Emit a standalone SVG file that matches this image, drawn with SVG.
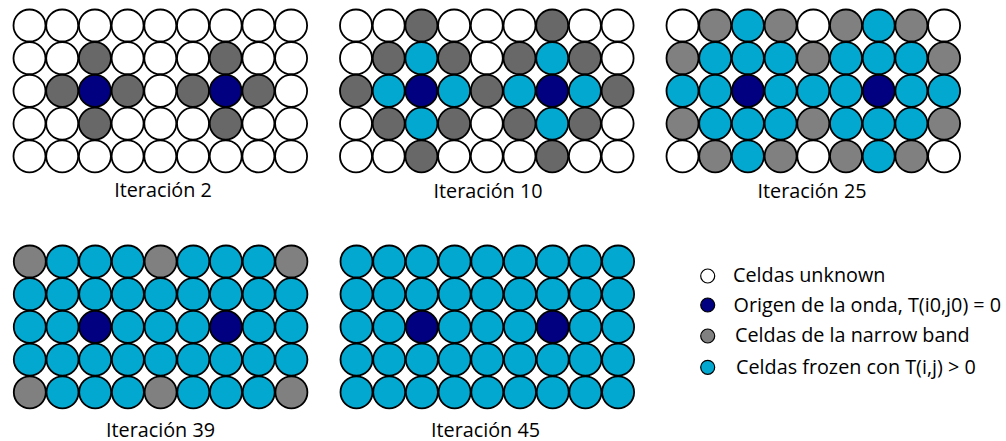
<svg xmlns="http://www.w3.org/2000/svg" width="1006" height="441" viewBox="0 0 1006 441">
<style>
circle{stroke:#000;stroke-width:1.8}
.w{fill:#fff}.b{fill:#000080}.g{fill:#686868}.h{fill:#808080}.c{fill:#02A8D0}
.lg circle{stroke-width:1.2}
text{font-family:"Open Sans","Liberation Sans",sans-serif;font-size:19.8px;fill:#000}
.lbl{text-anchor:middle}
</style>
<g id="iter2" transform="translate(29.5,25.5)">
<g transform="translate(0,0)"><circle cx="0" r="16" class="w"/><circle cx="32.7" r="16" class="w"/><circle cx="65.4" r="16" class="w"/><circle cx="98.1" r="16" class="w"/><circle cx="130.8" r="16" class="w"/><circle cx="163.5" r="16" class="w"/><circle cx="196.2" r="16" class="w"/><circle cx="228.9" r="16" class="w"/><circle cx="261.6" r="16" class="w"/></g>
<g transform="translate(0,32.7)"><circle cx="0" r="16" class="w"/><circle cx="32.7" r="16" class="w"/><circle cx="65.4" r="16" class="g"/><circle cx="98.1" r="16" class="w"/><circle cx="130.8" r="16" class="w"/><circle cx="163.5" r="16" class="w"/><circle cx="196.2" r="16" class="g"/><circle cx="228.9" r="16" class="w"/><circle cx="261.6" r="16" class="w"/></g>
<g transform="translate(0,65.4)"><circle cx="0" r="16" class="w"/><circle cx="32.7" r="16" class="g"/><circle cx="65.4" r="16" class="b"/><circle cx="98.1" r="16" class="g"/><circle cx="130.8" r="16" class="w"/><circle cx="163.5" r="16" class="g"/><circle cx="196.2" r="16" class="b"/><circle cx="228.9" r="16" class="g"/><circle cx="261.6" r="16" class="w"/></g>
<g transform="translate(0,98.1)"><circle cx="0" r="16" class="w"/><circle cx="32.7" r="16" class="w"/><circle cx="65.4" r="16" class="g"/><circle cx="98.1" r="16" class="w"/><circle cx="130.8" r="16" class="w"/><circle cx="163.5" r="16" class="w"/><circle cx="196.2" r="16" class="g"/><circle cx="228.9" r="16" class="w"/><circle cx="261.6" r="16" class="w"/></g>
<g transform="translate(0,130.8)"><circle cx="0" r="16" class="w"/><circle cx="32.7" r="16" class="w"/><circle cx="65.4" r="16" class="w"/><circle cx="98.1" r="16" class="w"/><circle cx="130.8" r="16" class="w"/><circle cx="163.5" r="16" class="w"/><circle cx="196.2" r="16" class="w"/><circle cx="228.9" r="16" class="w"/><circle cx="261.6" r="16" class="w"/></g>
</g>
<g id="iter10" transform="translate(356,25.5)">
<g transform="translate(0,0)"><circle cx="0" r="16" class="w"/><circle cx="32.7" r="16" class="w"/><circle cx="65.4" r="16" class="g"/><circle cx="98.1" r="16" class="w"/><circle cx="130.8" r="16" class="w"/><circle cx="163.5" r="16" class="w"/><circle cx="196.2" r="16" class="g"/><circle cx="228.9" r="16" class="w"/><circle cx="261.6" r="16" class="w"/></g>
<g transform="translate(0,32.7)"><circle cx="0" r="16" class="w"/><circle cx="32.7" r="16" class="g"/><circle cx="65.4" r="16" class="c"/><circle cx="98.1" r="16" class="g"/><circle cx="130.8" r="16" class="w"/><circle cx="163.5" r="16" class="g"/><circle cx="196.2" r="16" class="c"/><circle cx="228.9" r="16" class="g"/><circle cx="261.6" r="16" class="w"/></g>
<g transform="translate(0,65.4)"><circle cx="0" r="16" class="g"/><circle cx="32.7" r="16" class="c"/><circle cx="65.4" r="16" class="b"/><circle cx="98.1" r="16" class="c"/><circle cx="130.8" r="16" class="g"/><circle cx="163.5" r="16" class="c"/><circle cx="196.2" r="16" class="b"/><circle cx="228.9" r="16" class="c"/><circle cx="261.6" r="16" class="g"/></g>
<g transform="translate(0,98.1)"><circle cx="0" r="16" class="w"/><circle cx="32.7" r="16" class="g"/><circle cx="65.4" r="16" class="c"/><circle cx="98.1" r="16" class="g"/><circle cx="130.8" r="16" class="w"/><circle cx="163.5" r="16" class="g"/><circle cx="196.2" r="16" class="c"/><circle cx="228.9" r="16" class="g"/><circle cx="261.6" r="16" class="w"/></g>
<g transform="translate(0,130.8)"><circle cx="0" r="16" class="w"/><circle cx="32.7" r="16" class="w"/><circle cx="65.4" r="16" class="g"/><circle cx="98.1" r="16" class="w"/><circle cx="130.8" r="16" class="w"/><circle cx="163.5" r="16" class="w"/><circle cx="196.2" r="16" class="g"/><circle cx="228.9" r="16" class="w"/><circle cx="261.6" r="16" class="w"/></g>
</g>
<g id="iter25" transform="translate(682.5,25.5)">
<g transform="translate(0,0)"><circle cx="0" r="16" class="w"/><circle cx="32.7" r="16" class="h"/><circle cx="65.4" r="16" class="c"/><circle cx="98.1" r="16" class="h"/><circle cx="130.8" r="16" class="w"/><circle cx="163.5" r="16" class="h"/><circle cx="196.2" r="16" class="c"/><circle cx="228.9" r="16" class="h"/><circle cx="261.6" r="16" class="w"/></g>
<g transform="translate(0,32.7)"><circle cx="0" r="16" class="h"/><circle cx="32.7" r="16" class="c"/><circle cx="65.4" r="16" class="c"/><circle cx="98.1" r="16" class="c"/><circle cx="130.8" r="16" class="h"/><circle cx="163.5" r="16" class="c"/><circle cx="196.2" r="16" class="c"/><circle cx="228.9" r="16" class="c"/><circle cx="261.6" r="16" class="h"/></g>
<g transform="translate(0,65.4)"><circle cx="0" r="16" class="c"/><circle cx="32.7" r="16" class="c"/><circle cx="65.4" r="16" class="b"/><circle cx="98.1" r="16" class="c"/><circle cx="130.8" r="16" class="c"/><circle cx="163.5" r="16" class="c"/><circle cx="196.2" r="16" class="b"/><circle cx="228.9" r="16" class="c"/><circle cx="261.6" r="16" class="c"/></g>
<g transform="translate(0,98.1)"><circle cx="0" r="16" class="h"/><circle cx="32.7" r="16" class="c"/><circle cx="65.4" r="16" class="c"/><circle cx="98.1" r="16" class="c"/><circle cx="130.8" r="16" class="h"/><circle cx="163.5" r="16" class="c"/><circle cx="196.2" r="16" class="c"/><circle cx="228.9" r="16" class="c"/><circle cx="261.6" r="16" class="h"/></g>
<g transform="translate(0,130.8)"><circle cx="0" r="16" class="w"/><circle cx="32.7" r="16" class="h"/><circle cx="65.4" r="16" class="c"/><circle cx="98.1" r="16" class="h"/><circle cx="130.8" r="16" class="w"/><circle cx="163.5" r="16" class="h"/><circle cx="196.2" r="16" class="c"/><circle cx="228.9" r="16" class="h"/><circle cx="261.6" r="16" class="w"/></g>
</g>
<g id="iter39" transform="translate(29.8,261.5)">
<g transform="translate(0,0)"><circle cx="0" r="16" class="h"/><circle cx="32.7" r="16" class="c"/><circle cx="65.4" r="16" class="c"/><circle cx="98.1" r="16" class="c"/><circle cx="130.8" r="16" class="h"/><circle cx="163.5" r="16" class="c"/><circle cx="196.2" r="16" class="c"/><circle cx="228.9" r="16" class="c"/><circle cx="261.6" r="16" class="h"/></g>
<g transform="translate(0,32.7)"><circle cx="0" r="16" class="c"/><circle cx="32.7" r="16" class="c"/><circle cx="65.4" r="16" class="c"/><circle cx="98.1" r="16" class="c"/><circle cx="130.8" r="16" class="c"/><circle cx="163.5" r="16" class="c"/><circle cx="196.2" r="16" class="c"/><circle cx="228.9" r="16" class="c"/><circle cx="261.6" r="16" class="c"/></g>
<g transform="translate(0,65.4)"><circle cx="0" r="16" class="c"/><circle cx="32.7" r="16" class="c"/><circle cx="65.4" r="16" class="b"/><circle cx="98.1" r="16" class="c"/><circle cx="130.8" r="16" class="c"/><circle cx="163.5" r="16" class="c"/><circle cx="196.2" r="16" class="b"/><circle cx="228.9" r="16" class="c"/><circle cx="261.6" r="16" class="c"/></g>
<g transform="translate(0,98.1)"><circle cx="0" r="16" class="c"/><circle cx="32.7" r="16" class="c"/><circle cx="65.4" r="16" class="c"/><circle cx="98.1" r="16" class="c"/><circle cx="130.8" r="16" class="c"/><circle cx="163.5" r="16" class="c"/><circle cx="196.2" r="16" class="c"/><circle cx="228.9" r="16" class="c"/><circle cx="261.6" r="16" class="c"/></g>
<g transform="translate(0,130.8)"><circle cx="0" r="16" class="h"/><circle cx="32.7" r="16" class="c"/><circle cx="65.4" r="16" class="c"/><circle cx="98.1" r="16" class="c"/><circle cx="130.8" r="16" class="h"/><circle cx="163.5" r="16" class="c"/><circle cx="196.2" r="16" class="c"/><circle cx="228.9" r="16" class="c"/><circle cx="261.6" r="16" class="h"/></g>
</g>
<g id="iter45" transform="translate(356.5,261.5)">
<g transform="translate(0,0)"><circle cx="0" r="16" class="c"/><circle cx="32.7" r="16" class="c"/><circle cx="65.4" r="16" class="c"/><circle cx="98.1" r="16" class="c"/><circle cx="130.8" r="16" class="c"/><circle cx="163.5" r="16" class="c"/><circle cx="196.2" r="16" class="c"/><circle cx="228.9" r="16" class="c"/><circle cx="261.6" r="16" class="c"/></g>
<g transform="translate(0,32.7)"><circle cx="0" r="16" class="c"/><circle cx="32.7" r="16" class="c"/><circle cx="65.4" r="16" class="c"/><circle cx="98.1" r="16" class="c"/><circle cx="130.8" r="16" class="c"/><circle cx="163.5" r="16" class="c"/><circle cx="196.2" r="16" class="c"/><circle cx="228.9" r="16" class="c"/><circle cx="261.6" r="16" class="c"/></g>
<g transform="translate(0,65.4)"><circle cx="0" r="16" class="c"/><circle cx="32.7" r="16" class="c"/><circle cx="65.4" r="16" class="b"/><circle cx="98.1" r="16" class="c"/><circle cx="130.8" r="16" class="c"/><circle cx="163.5" r="16" class="c"/><circle cx="196.2" r="16" class="b"/><circle cx="228.9" r="16" class="c"/><circle cx="261.6" r="16" class="c"/></g>
<g transform="translate(0,98.1)"><circle cx="0" r="16" class="c"/><circle cx="32.7" r="16" class="c"/><circle cx="65.4" r="16" class="c"/><circle cx="98.1" r="16" class="c"/><circle cx="130.8" r="16" class="c"/><circle cx="163.5" r="16" class="c"/><circle cx="196.2" r="16" class="c"/><circle cx="228.9" r="16" class="c"/><circle cx="261.6" r="16" class="c"/></g>
<g transform="translate(0,130.8)"><circle cx="0" r="16" class="c"/><circle cx="32.7" r="16" class="c"/><circle cx="65.4" r="16" class="c"/><circle cx="98.1" r="16" class="c"/><circle cx="130.8" r="16" class="c"/><circle cx="163.5" r="16" class="c"/><circle cx="196.2" r="16" class="c"/><circle cx="228.9" r="16" class="c"/><circle cx="261.6" r="16" class="c"/></g>
</g>
<g id="labels">
<text class="lbl" x="163" y="197">Iteración 2</text>
<text class="lbl" x="488" y="198">Iteración 10</text>
<text class="lbl" x="812" y="198">Iteración 25</text>
<text class="lbl" x="160.5" y="436.5">Iteración 39</text>
<text class="lbl" x="485.5" y="436.5">Iteración 45</text>
</g>
<g id="legend" class="lg">
<g id="leg-unknown"><circle cx="707.7" cy="276" r="7" class="w"/><text x="733" y="282">Celdas unknown</text></g>
<g id="leg-origin"><circle cx="707.7" cy="305" r="7" class="b"/><text x="733.5" y="312">Origen de la onda, T(i0,j0) = 0</text></g>
<g id="leg-narrow"><circle cx="707.7" cy="336" r="7" class="h"/><text x="735" y="342">Celdas de la narrow band</text></g>
<g id="leg-frozen"><circle cx="707.7" cy="367.3" r="7" class="c"/><text x="736" y="373.5">Celdas frozen con T(i,j) &gt; 0</text></g>
</g>
</svg>
